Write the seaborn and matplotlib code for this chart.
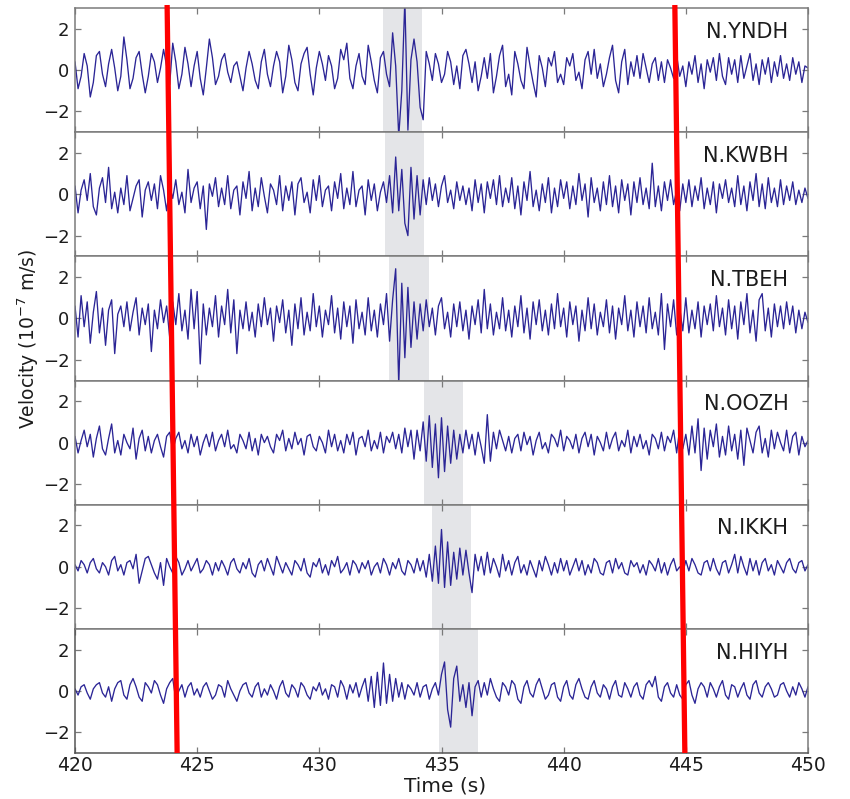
import numpy as np
import matplotlib
matplotlib.use("Agg")
import matplotlib.pyplot as plt
import matplotlib.transforms as mtransforms
from matplotlib.lines import Line2D
import seaborn as sns

# Station names, top to bottom
stations = ["N.YNDH", "N.KWBH", "N.TBEH", "N.OOZH", "N.IKKH", "N.HIYH"]

# Velocity traces (10^-7 m/s), 8 samples per second from 420 s to 450 s
yndh = [
    0.4, -0.9, -0.3, 0.8, 0.2, -1.3, -0.6, 0.7,
    0.9, -0.2, -0.8, 0.3, 1.0, 0.1, -1.0, -0.3,
    1.6, 0.5, -0.9, -0.4, 0.6, 0.9, -0.2, -1.1,
    -0.3, 0.8, 0.4, -0.6, 0.1, 1.0, 0.2, -0.7,
    1.3, 0.4, -0.9, -0.2, 1.1, 0.3, -0.8, 0.2,
    0.9, -0.4, -1.2, 0.1, 1.5, 0.6, -0.7, -0.3,
    0.5, 0.8, -0.1, -0.6, 0.2, 0.4, -0.3, -1.0,
    0.1, 0.9, 0.3, -0.5, -0.9, 0.4, 1.0, -0.2,
    -0.8, 0.2, 0.9, 0.4, -1.1, -0.3, 1.2, 0.5,
    -0.6, -1.0, 0.3, 0.8, 1.1, -0.2, -1.2, 0.1,
    0.9, 0.3, -0.5, 0.7, 0.2, -0.9, -0.4, 1.0,
    0.5, 1.3, -0.4, -0.9, 0.2, 0.8, -0.3, -0.7,
    1.2, 0.4, -0.5, -1.1, 0.6, 0.9, -0.2, -0.8,
    1.8, 0.2, -3.2, -1.0, 3.4, -2.9, 0.5, 1.5,
    0.4, -1.8, -2.4, 0.9, 0.3, -0.5, 0.8, 0.3,
    -0.6, -0.2, 0.9, 0.4, -0.7, 0.2, -0.9, 0.7,
    1.0, 0.3, -0.6, 0.4, -1.0, -0.3, 0.6, -0.4,
    0.8, -1.1, -0.3, 0.7, 1.2, -0.8, -0.2, -1.2,
    0.9, 0.3, -0.5, -0.9, 1.1, 0.2, -0.6, -1.3,
    0.7, 0.1, -0.8, 0.6, 0.2, 0.9, -0.6, -0.2,
    -0.7, 0.6, 0.2, 0.8, -0.5, -0.1, -0.9, 0.5,
    0.9, -0.2, 1.0, -0.4, 0.3, -0.8, -0.2, 0.6,
    1.2, -0.5, -1.1, 0.4, 1.0, -0.7, 0.4, -0.3,
    0.7, -0.4, 0.8, 0.1, -0.6, 0.3, 0.6, -0.5,
    0.4, -0.6, 0.5, 0.1, -0.4, 0.7, -0.3, 0.2,
    -0.8, 0.4, -0.2, 0.7, -0.6, 0.3, -0.9, 0.5,
    -0.1, 0.6, -0.5, 0.8, -0.3, -0.7, 0.6, -0.2,
    0.5, -0.6, 0.7, -0.4, 0.2, 0.8, -0.5, 0.3,
    -0.7, 0.5, -0.2, 0.6, -0.6, 0.4, -0.3, 0.7,
    -0.4, 0.3, -0.5, 0.6, -0.2, 0.4, -0.6, 0.2,
    0.1,
]

kwbh = [
    0.4, -0.9, 0.2, 0.7, -0.3, 1.0, -0.6, -1.0,
    0.3, 0.8, -0.4, 1.3, -0.7, 0.1, -0.9, 0.3,
    -0.5, 0.9, -0.8, -0.2, 0.4, 0.7, -1.1, 0.2,
    0.6, -0.3, 0.5, -0.7, 0.9, 0.2, -0.8, 0.4,
    -0.2, 0.7, -0.5, 0.1, -0.9, 1.2, -0.4, 0.3,
    0.6, -0.7, 0.4, -1.7, 0.5, -0.1, 0.8, -0.6,
    0.3, -0.5, 0.9, -0.7, 0.2, 0.4, -1.0, 0.6,
    -0.2, 1.1, -0.8, 0.3, -0.6, 0.8, -0.1, -0.9,
    0.5, 0.2, -0.5, 0.9, -0.8, 0.4, -0.3, 0.6,
    -1.0, 0.5, 0.8, -0.4, 0.1, -0.9, 0.7, -0.3,
    0.9, -0.6, 0.2, 0.4, -0.8, 0.6, -0.2, 1.0,
    -0.7, 0.3, -0.5, 1.1, -0.6, 0.2, 0.4, -1.0,
    0.7, -0.3, 0.5, -0.8, 0.1, 0.6, -0.4, 0.9,
    -0.9, 1.8, -0.8, 1.2, -1.4, -2.0, 1.3, -1.2,
    0.9, -1.0, 0.7, -0.5, 0.8, -0.3, 0.5, -0.6,
    0.4, 0.9, -0.4, 0.2, -0.7, 0.6, -0.3, 0.4,
    -0.5, 0.3, -0.8, 0.7, -0.4, 0.5, -0.9, 0.6,
    -0.2, 0.7, -0.5, 0.9, -0.6, 0.3, -0.4, 0.8,
    -0.7, 0.4, -1.0, 0.6, -0.3, 1.1, -0.6, 0.2,
    -0.8, 0.5, -0.4, 0.8, -0.9, 0.3, -0.6, 0.7,
    -0.2, 0.6, -0.7, 0.4, -0.5, 1.0, -0.3, 0.5,
    -1.1, 0.8, -0.4, 0.3, -0.8, 0.6, -0.5, 0.9,
    -0.6, 0.4, -0.9, 0.7, -0.3, 0.5, -1.0, 0.6,
    -0.4, 0.8, -0.5, 0.3, -0.7, 1.5, -0.6, 0.4,
    -0.8, 0.6, -0.3, 0.7, -0.5, 0.2, -0.8, 0.5,
    -0.4, 0.7, -0.6, 0.4, -0.3, 0.8, -0.7, 0.3,
    -0.5, 0.6, -0.9, 0.5, -0.2, 0.7, -0.4, 0.3,
    -0.6, 0.9, -0.5, 0.4, -0.8, 0.6, -0.3, 1.0,
    -0.6, 0.5, -0.7, 0.8, -0.4, 0.3, -0.6, 0.7,
    -0.5, 0.4, -0.3, 0.6, -0.5, 0.2, -0.4, 0.3,
    -0.2,
]

tbeh = [
    0.6, -0.9, 1.1, -0.4, 0.8, -1.2, 0.3, 1.3,
    -0.7, 0.5, -1.3, 0.4, 0.9, -1.7, 0.2, 0.6,
    -0.4, 0.8, -0.6, 0.3, 1.0, -0.8, 0.5, -0.3,
    0.7, -1.6, 0.4, -0.5, 0.9, -0.2, 0.6, -0.9,
    0.8, -0.3, 1.2, -0.6, 0.4, -1.0, 1.4, -0.5,
    1.3, -2.2, 0.7, -0.8, 0.5, -0.4, 1.1, -0.9,
    0.6, -0.3, 1.4, -0.7, 0.9, -1.7, 0.4, -0.5,
    0.8, -0.6, 0.3, -0.9, 0.7, -0.4, 1.0, -0.3,
    0.5, -1.1, 0.6, -0.2, 0.9, -0.7, 0.4, -1.3,
    0.7, -0.5, 1.0, -0.8, 0.3, -0.6, 1.2, -0.4,
    0.6, -0.9, 0.4, -0.3, 1.1, -0.7, 0.5, -1.0,
    0.8, -0.4, 0.6, -1.2, 0.9, -0.5, 0.3, -0.8,
    1.0, -0.6, 0.4, -0.9, 0.7, -0.3, 1.2, -1.1,
    0.9, 2.4, -3.2, 1.7, -1.9, 1.5, -1.4, 0.8,
    -1.0, 0.7, -0.6, 0.9, -0.4, 0.5, -0.8, 0.6,
    1.0, -0.5, 0.3, -0.9, 0.7, -0.4, 0.8, -0.6,
    0.4, -1.0, 0.6, -0.3, 0.9, -0.7, 1.4, -0.5,
    0.7, -0.8, 0.3, -0.5, 1.0, -0.6, 0.4, -0.9,
    0.6, -0.4, 1.1, -0.7, 0.5, -1.0, 0.8, -0.3,
    0.9, -0.6, 0.4, -0.8, 0.7, -0.5, 1.2, -0.4,
    0.5, -0.9, 0.8, -0.3, 0.6, -1.1, 0.4, -0.6,
    1.0, -0.5, 0.7, -0.8, 0.3, -0.4, 0.9, -0.7,
    0.6, -1.0, 0.5, -0.3, 1.1, -0.6, 0.4, -0.9,
    0.8, -0.4, 0.6, -0.7, 1.0, -0.5, 0.3, -0.8,
    1.2, -1.5, 0.7, -0.4, 0.9, -0.8, 0.5, -0.6,
    1.0, -0.7, 0.4, -0.5, 0.8, -0.9, 0.6, -0.3,
    0.7, -0.6, 1.1, -0.4, 0.5, -0.8, 0.9, -0.5,
    0.6, -1.0, 0.8, -0.3, 1.2, -0.7, 0.4, -1.1,
    0.9, 1.2, -0.6, 0.5, -0.9, 0.7, -0.4, 0.6,
    -0.5, 0.8, -0.3, 0.6, -0.7, 0.4, -0.5, 0.3,
    -0.2,
]

oozh = [
    0.3, -0.5, 0.1, 0.6, -0.2, 0.4, -0.7, 0.2,
    0.8, -0.3, -0.6, 0.2, 0.9, -0.5, 0.1, -0.6,
    0.4, 0.0, -0.3, 0.7, -0.8, 0.2, 0.6, -0.4,
    0.3, -0.5, 0.1, 0.4, -0.2, -0.7, 0.3, 0.5,
    -0.4, 0.2, 0.5, -0.3, 0.1, -0.5, 0.4, -0.2,
    0.3, -0.6, 0.0, 0.4, -0.2, 0.5, -0.4, 0.1,
    0.4, -0.2, 0.6, -0.3, -0.1, -0.5, 0.4, 0.1,
    -0.3, 0.5, -0.4, 0.2, -0.6, 0.4, 0.0, 0.3,
    -0.2, -0.5, 0.4, 0.1, 0.6, -0.4, 0.2, -0.3,
    0.5, -0.1, 0.2, -0.6, 0.3, 0.4, -0.2, -0.4,
    0.3, 0.0, -0.5, 0.6, -0.2, 0.4, -0.4, 0.1,
    -0.5, 0.4, -0.1, 0.5, -0.6, 0.2, 0.3, -0.2,
    0.6, -0.4, 0.1, -0.3, 0.5, -0.5, 0.3, 0.0,
    0.5, -0.3, 0.4, -0.5, 0.7, -0.2, 0.6, -0.8,
    0.6, -0.4, 1.0, -0.9, 1.3, -1.2, 0.9, -1.7,
    1.2, -1.4, 0.8, -1.0, 0.6, -0.8, 0.4, -0.5,
    0.6, -0.3, 0.4, -0.6, 0.5, -0.2, -1.0, 1.35,
    -0.9, 0.5, -0.3, 0.6, 0.1, -0.4, 0.3, -0.5,
    0.2, 0.4, -0.4, 0.5, -0.1, 0.3, -0.6, 0.1,
    0.5, -0.3, 0.0, -0.5, 0.4, 0.2, -0.2, 0.6,
    -0.4, 0.3, 0.1, -0.3, 0.4, -0.5, 0.2, 0.5,
    -0.2, 0.4, -0.6, 0.3, 0.0, -0.4, 0.5, -0.3,
    0.2, 0.5, -0.4, 0.1, -0.2, 0.6, -0.5, 0.3,
    -0.2, 0.4, -0.3, 0.1, -0.6, 0.4, 0.2, -0.3,
    0.5, -0.4, 0.3, 0.0, 0.6, -0.5, 0.7, -0.3,
    0.4, -0.6, 0.8, -0.5, 1.15, -1.35, 0.7, -0.8,
    0.6, -0.2, 0.9, -0.7, 0.3, -0.6, 0.8, -0.4,
    0.4, -0.8, 0.6, -1.1, 0.7, 0.1, -0.5, 0.5,
    0.8, -0.5, 0.2, -0.7, 0.6, -0.3, 0.5, 0.0,
    -0.4, 0.6, -0.5, 0.3, 0.5, -0.6, 0.3, -0.2,
    0.1,
]

ikkh = [
    0.1, -0.2, 0.3, 0.1, -0.3, 0.2, 0.4, -0.1,
    -0.3, 0.2, 0.0, -0.4, 0.3, 0.5, -0.2, 0.1,
    -0.4, 0.2, 0.3, -0.1, 0.6, -0.8, -0.2, 0.4,
    0.5, 0.1, -0.3, -0.6, 0.2, -0.9, 0.4, 0.0,
    -0.3, 0.5, 0.2, -0.4, -0.1, 0.3, -0.2, 0.1,
    0.4, -0.3, -0.1, 0.3, 0.1, -0.4, 0.2, -0.2,
    0.3, 0.0, -0.4, 0.2, 0.4, -0.1, -0.3, 0.2,
    -0.1, 0.4, -0.3, -0.5, 0.1, 0.3, -0.2, 0.4,
    0.0, -0.4, 0.5, 0.1, -0.3, 0.2, -0.1, -0.4,
    0.3, 0.1, -0.2, 0.4, -0.3, -0.5, 0.2, 0.0,
    0.4, -0.3, 0.1, -0.4, 0.3, 0.0, 0.5, -0.3,
    -0.1, 0.2, -0.4, 0.3, 0.1, -0.3, 0.2, -0.1,
    0.3, -0.4, 0.0, 0.2, -0.3, 0.4, 0.1, -0.4,
    0.2, -0.1, 0.4, -0.2, -0.4, 0.3, 0.1, -0.3,
    0.4, -0.2, 0.3, -0.5, 0.6, -0.7, 1.0, -0.8,
    1.8, -1.0, 1.2, -0.9, 0.7, -0.6, 0.9, -0.4,
    0.8, -0.3, -1.25, 0.6, -0.2, 0.5, -0.4, 0.7,
    -0.3, 0.4, 0.0, -0.5, 0.6, -0.2, 0.3, -0.4,
    0.2, 0.5, -0.3, 0.1, -0.4, 0.3, -0.1, -0.5,
    0.3, -0.2, 0.5, 0.1, -0.4, 0.2, -0.3, 0.4,
    -0.2, 0.3, -0.4, 0.0, 0.4, -0.2, 0.3, -0.4,
    0.1, -0.3, 0.4, 0.2, -0.3, -0.4, 0.2, 0.3,
    -0.3, 0.4, -0.1, 0.2, -0.3, -0.4, 0.3, 0.0,
    0.2, -0.3, 0.1, -0.4, 0.3, 0.1, -0.2, 0.4,
    -0.3, 0.2, -0.4, 0.1, 0.4, -0.2, 0.0, -0.3,
    0.3, -0.2, 0.4, 0.1, -0.3, -0.4, 0.2, 0.3,
    -0.2, 0.4, -0.1, -0.4, 0.2, 0.3, -0.3, 0.1,
    0.6, -0.3, 0.5, 0.0, -0.4, 0.4, -0.2, 0.3,
    -0.4, 0.2, 0.4, -0.2, 0.1, -0.4, 0.3, 0.0,
    -0.3, 0.2, 0.4, -0.1, -0.3, 0.2, 0.3, -0.2,
    0.1,
]

hiyh = [
    0.1, -0.2, 0.2, 0.3, -0.1, -0.4, 0.1, 0.3,
    0.4, -0.1, -0.3, 0.2, -0.5, 0.1, 0.4, 0.5,
    -0.2, -0.4, 0.3, 0.6, 0.2, -0.3, -0.5, 0.4,
    0.2, -0.1, 0.5, 0.3, -0.2, -0.6, 0.1, 0.4,
    0.6, -0.4, 0.0, 0.3, -0.3, 0.2, 0.4, -0.2,
    0.1, -0.3, 0.2, 0.4, 0.0, -0.4, -0.2, 0.3,
    0.2, -0.3, 0.5, 0.1, -0.2, -0.5, 0.0, 0.3,
    0.4, -0.1, -0.3, 0.2, 0.4, -0.3, 0.1, -0.2,
    0.3, 0.0, -0.4, 0.2, 0.5, -0.1, -0.3, 0.3,
    0.1, -0.3, 0.4, 0.2, -0.2, -0.4, 0.2, 0.0,
    0.4, -0.2, 0.1, -0.4, 0.3, 0.2, -0.3, 0.5,
    0.2, -0.4, 0.3, -0.1, 0.4, -0.3, 0.2, 0.6,
    -0.5, 0.7, -0.8, 0.9, -0.7, 1.35, -0.6, 0.8,
    -0.5, 0.6, -0.3, 0.4, -0.4, 0.3, 0.1, -0.2,
    0.4, -0.3, 0.2, 0.3, -0.4, 0.1, 0.4, -0.2,
    0.8, 1.4, -0.9, -1.75, 0.6, 1.2, -0.5, 0.3,
    -0.8, 0.4, -1.2, 0.2, 0.5, -0.3, 0.4, -0.2,
    0.6, 0.1, -0.3, -0.5, 0.4, 0.2, -0.2, 0.5,
    0.3, -0.4, -0.6, 0.2, 0.5, -0.1, -0.3, 0.3,
    0.6, 0.1, -0.4, -0.2, 0.3, 0.4, -0.3, -0.5,
    0.2, 0.5, -0.2, -0.4, 0.3, 0.6, 0.1, -0.3,
    -0.4, 0.2, 0.5, -0.1, -0.3, 0.3, 0.1, -0.4,
    0.2, 0.5, -0.2, -0.3, 0.4, 0.1, -0.3, 0.2,
    0.4, -0.2, -0.4, 0.3, 0.5, 0.2, 0.7, -0.3,
    -0.5, 0.2, 0.4, -0.1, -0.3, 0.3, -0.2, -0.4,
    0.3, 0.5, -0.2, -0.6, 0.1, 0.4, 0.2, -0.3,
    0.4, 0.1, -0.3, 0.2, 0.5, -0.2, -0.4, 0.3,
    0.2, -0.3, 0.1, 0.4, -0.2, -0.4, 0.3, 0.5,
    -0.1, -0.3, 0.2, 0.4, 0.1, -0.3, -0.2, 0.3,
    0.4, 0.0, -0.3, 0.2, -0.2, 0.4, 0.1, -0.3,
    0.2,
]

traces = [yndh, kwbh, tbeh, oozh, ikkh, hiyh]

# Arrival windows (s) highlighted on each trace
window_start = [432.6, 432.7, 432.85, 434.3, 434.6, 434.9]
window_end = [434.2, 434.3, 434.5, 435.9, 436.2, 436.5]

# Picked moveout lines: time at the top and at the bottom of the record section
pick_top = [423.77, 444.55]
pick_bottom = [424.18, 444.96]

t_start, t_end = 420, 450
x_ticks = [420, 425, 430, 435, 440, 445, 450]
y_ticks = [-2, 0, 2]

sns.set_style("ticks")
plt.rcParams["font.family"] = ["DejaVu Sans"]

W, H = 850, 799
fig = plt.figure(figsize=(W / 100, H / 100), dpi=100)
fig.patch.set_facecolor("white")

left_px, right_px = 75, 808
top_px, bottom_px = 8, 753
n = len(stations)
panel_h = (bottom_px - top_px) / n

trace_color = "#2b2596"
frame_color = "#7a7a7a"
text_color = "#1c1c1c"

axes = []
for i, (name, vals) in enumerate(zip(stations, traces)):
    y0 = top_px + i * panel_h
    ax = fig.add_axes([left_px / W, 1 - (y0 + panel_h) / H,
                       (right_px - left_px) / W, panel_h / H])
    t = np.linspace(t_start, t_end, len(vals))
    ax.axvspan(window_start[i], window_end[i], color="#e4e5e8", lw=0, zorder=0)
    sns.lineplot(x=t, y=vals, ax=ax, color=trace_color, linewidth=0.95,
                 estimator=None, sort=False, zorder=2)
    ax.set_xlim(t_start, t_end)
    ax.set_ylim(-3, 3)
    ax.set_xticks(x_ticks)
    ax.set_yticks(y_ticks)
    ax.tick_params(direction="in", length=4, width=0.9, color=frame_color,
                   top=True, right=True, labelsize=13, labelcolor=text_color, pad=4)
    ax.set_ylabel("")
    ax.set_xlabel("")
    for sp in ax.spines.values():
        sp.set_color(frame_color)
        sp.set_linewidth(1.1)
    if i < n - 1:
        ax.tick_params(labelbottom=False)
    else:
        ax.tick_params(axis="x", labelsize=13.5, pad=2)
        ax.spines["left"].set_color("#555555")
        ax.spines["bottom"].set_color("#555555")
    ax.text(449.2, 1.85, name, ha="right", va="center", fontsize=15,
            color=text_color, zorder=3)
    axes.append(ax)

# Moveout lines drawn across the whole record section
blend = mtransforms.blended_transform_factory(axes[-1].transData, fig.transFigure)
y_top = 1 - 5 / H
y_bot = 1 - bottom_px / H
for tt, tb in zip(pick_top, pick_bottom):
    fig.add_artist(Line2D([tt, tb], [y_top, y_bot], transform=blend,
                          color="#ff0000", linewidth=3.8, solid_capstyle="butt",
                          zorder=10))

fig.text(28 / W, 1 - 339 / H, "Velocity (10$^{-7}$ m/s)", rotation=90,
         ha="center", va="center", fontsize=13.5, color=text_color)
fig.text(445 / W, 1 - 786 / H, "Time (s)", ha="center", va="center",
         fontsize=14.5, color=text_color)

fig.savefig("out.png", dpi=100, facecolor="white")
